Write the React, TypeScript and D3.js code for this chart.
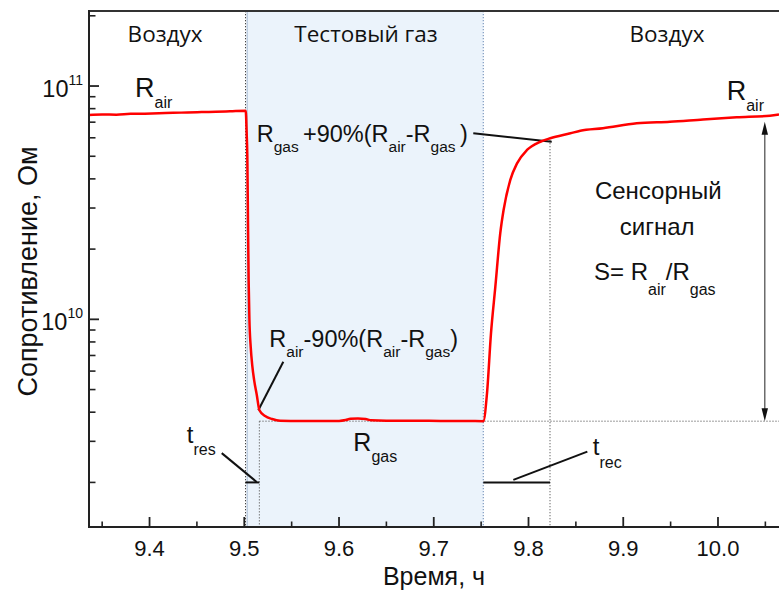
import React from 'react';
import * as d3 from 'd3';

const W = 779;
const H = 591;

// Time, h
const time = [
  9.336, 9.35, 9.365, 9.38, 9.395, 9.41, 9.425, 9.44, 9.455, 9.47, 9.485, 9.5015,
  9.5025, 9.5032, 9.504, 9.5046, 9.5054, 9.5068, 9.5085, 9.5104, 9.5132, 9.516, 9.522, 9.5294, 9.5378,
  9.56, 9.58, 9.6, 9.607, 9.612, 9.62, 9.628, 9.634, 9.65, 9.68, 9.71, 9.735, 9.7523,
  9.7562, 9.7604, 9.765, 9.7702, 9.7737, 9.7808, 9.7879, 9.7984, 9.8125, 9.823, 9.8442, 9.8547,
  9.8786, 9.9142, 9.9493, 9.9842, 10.0197, 10.0548, 10.0644,
];
// Resistance, Ohm
const resistance = [
  75.2e9, 75.5e9, 75.4e9, 76.0e9, 76.1e9, 76.4e9, 76.8e9, 77.0e9, 77.3e9, 77.6e9, 77.9e9, 78.3e9,
  63.0e9, 50.0e9, 24.1e9, 14.7e9, 10.0e9, 7.6e9, 6.3e9, 5.49e9, 4.74e9, 4.08e9, 3.85e9, 3.74e9, 3.68e9,
  3.67e9, 3.67e9, 3.67e9, 3.7e9, 3.75e9, 3.76e9, 3.74e9, 3.69e9, 3.68e9, 3.68e9, 3.67e9, 3.67e9, 3.66e9,
  4.82e9, 8.71e9, 13.8e9, 23.4e9, 29.4e9, 39.6e9, 46.6e9, 53.2e9, 57.7e9, 59.7e9, 62.7e9, 64.3e9,
  65.9e9, 69.2e9, 70.3e9, 71.9e9, 73.4e9, 74.6e9, 75.5e9,
];

const xTicks = [9.4, 9.5, 9.6, 9.7, 9.8, 9.9, 10.0];
const xTickLabels = ['9.4', '9.5', '9.6', '9.7', '9.8', '9.9', '10.0'];
const xMinorTicks = [9.35, 9.45, 9.55, 9.65, 9.75, 9.85, 9.95, 10.05];
const yTicks = [1e10, 1e11];
const yTickExp = ['10', '11'];
const yMinorTicks = [
  2e9, 3e9, 4e9, 5e9, 6e9, 7e9, 8e9, 9e9,
  2e10, 3e10, 4e10, 5e10, 6e10, 7e10, 8e10, 9e10, 2e11,
];

// key levels / times of the experiment
const gasStart = 9.503;
const gasEnd = 9.7523;
const gasOnMark = 9.5013;
const tResEnd = 9.5159;
const tRecEnd = 9.8227;
const rGas = 3.66e9;
const r90Rec = 5.87e10;
const tBarLevel = 2.0e9;
const arrowTime = 10.0494;
const arrowTop = 7.03e10;

// leader lines [t1, r1, t2, r2]
const leaders = [
  [9.7417, 6.27e10, 9.8245, 5.77e10],
  [9.5412, 6.58e9, 9.5148, 4.08e9],
  [9.4762, 2.67e9, 9.5131, 2.01e9],
  [9.784, 2.05e9, 9.8621, 2.71e9],
];

type Part = [string, boolean?];
interface Label {
  t: number;
  r: number;
  anchor: 'start' | 'middle' | 'end';
  family: string;
  fs: number;
  subFs?: number;
  subDy?: number;
  parts: Part[];
}

const SANS = "'Liberation Sans', Arial, sans-serif";
const HUM = "'Open Sans', 'Noto Sans', sans-serif";

const labels: Label[] = [
  { t: 9.4164, r: 1.544e11, anchor: 'middle', family: HUM, fs: 22.5, parts: [['Воздух']] },
  { t: 9.6285, r: 1.544e11, anchor: 'middle', family: HUM, fs: 22.5, parts: [['Тестовый газ']] },
  { t: 9.9462, r: 1.544e11, anchor: 'middle', family: HUM, fs: 22.5, parts: [['Воздух']] },
  { t: 9.3847, r: 8.99e10, anchor: 'start', family: SANS, fs: 27, subFs: 16, subDy: 11, parts: [['R'], ['air', true]] },
  { t: 10.0092, r: 8.71e10, anchor: 'start', family: SANS, fs: 27, subFs: 16, subDy: 11, parts: [['R'], ['air', true]] },
  {
    t: 9.5131, r: 5.77e10, anchor: 'start', family: SANS, fs: 23.5, subFs: 15.5, subDy: 10,
    parts: [['R'], ['gas ', true], ['+90%(R'], ['air', true], ['-R'], ['gas ', true], [')']],
  },
  {
    t: 9.5264, r: 7.63e9, anchor: 'start', family: SANS, fs: 23.5, subFs: 15.5, subDy: 10,
    parts: [['R'], ['air', true], ['-90%(R'], ['air', true], ['-R'], ['gas', true], [')']],
  },
  { t: 9.6151, r: 2.73e9, anchor: 'start', family: SANS, fs: 25, subFs: 16, subDy: 11, parts: [['R'], ['gas', true]] },
  { t: 9.4393, r: 2.94e9, anchor: 'start', family: SANS, fs: 24, subFs: 16, subDy: 12, parts: [['t'], ['res', true]] },
  { t: 9.8678, r: 2.62e9, anchor: 'start', family: SANS, fs: 24, subFs: 16, subDy: 13, parts: [['t'], ['rec', true]] },
  { t: 9.937, r: 3.27e10, anchor: 'middle', family: SANS, fs: 24, parts: [['Сенсорный']] },
  { t: 9.9358, r: 2.3e10, anchor: 'middle', family: SANS, fs: 24, parts: [['сигнал']] },
  {
    t: 9.8691, r: 1.474e10, anchor: 'start', family: SANS, fs: 24, subFs: 16, subDy: 15,
    parts: [['S= R'], ['air', true], ['/R'], ['gas', true]],
  },
];

const RichText: React.FC<{ x: number; y: number; l: Label }> = ({ x, y, l }) => {
  let cur = 0;
  return (
    <text x={x} y={y} textAnchor={l.anchor} fontFamily={l.family} fontSize={l.fs} fill="#111" style={{ whiteSpace: 'pre' }}>
      {l.parts.map(([s, sub], i) => {
        const target = sub ? l.subDy || 0 : 0;
        const dy = target - cur;
        cur = target;
        return (
          <tspan key={i} dy={dy} fontSize={sub ? l.subFs : l.fs}>
            {s}
          </tspan>
        );
      })}
    </text>
  );
};

export default function App() {
  const left = 89, right = 779, top = 11, bottom = 527;
  const x = d3.scaleLinear().domain([9.3361, 10.0644]).range([left, right]);
  const y = d3.scaleLog().domain([1.288e9, 2.097e11]).range([bottom, top]);

  const pts: [number, number][] = time.map((t, i) => [t, resistance[i]]);
  const line = d3
    .line<[number, number]>()
    .x((d) => x(d[0]))
    .y((d) => y(d[1]))
    .curve(d3.curveMonotoneX);

  const dot = '1.3 1.7';
  const ax = x(arrowTime);
  const ayTop = y(arrowTop);
  const ayBot = y(rGas);

  return (
    <svg width={W} height={H} style={{ position: 'absolute', left: 0, top: 0, background: '#fff' }}>
      <defs>
        <clipPath id="plot">
          <rect x={left} y={top} width={right - left} height={bottom - top} />
        </clipPath>
      </defs>

      {/* gas exposure region */}
      <rect x={x(gasStart)} y={top} width={x(gasEnd) - x(gasStart)} height={bottom - top} fill="#ebf3fb" />
      <line x1={x(gasStart)} x2={x(gasStart)} y1={top} y2={bottom} stroke="#9fb4cf" strokeWidth={1} />
      <line x1={x(gasEnd)} x2={x(gasEnd)} y1={top} y2={bottom} stroke="#7f9cc0" strokeWidth={1.2} strokeDasharray={dot} />
      <line x1={x(gasOnMark)} x2={x(gasOnMark)} y1={top} y2={bottom} stroke="#444" strokeWidth={1} strokeDasharray={dot} />

      {/* dotted helper lines */}
      <line x1={x(tResEnd)} x2={x(tResEnd)} y1={y(rGas)} y2={bottom} stroke="#666" strokeWidth={1} strokeDasharray={dot} />
      <line x1={x(tResEnd)} x2={right} y1={y(rGas)} y2={y(rGas)} stroke="#666" strokeWidth={1} strokeDasharray={dot} />
      <line x1={x(tRecEnd)} x2={x(tRecEnd)} y1={y(r90Rec)} y2={bottom} stroke="#666" strokeWidth={1} strokeDasharray={dot} />

      {/* response / recovery time bars */}
      <line x1={x(gasOnMark)} x2={x(tResEnd)} y1={y(tBarLevel)} y2={y(tBarLevel)} stroke="#111" strokeWidth={2} />
      <line x1={x(gasEnd)} x2={x(tRecEnd)} y1={y(tBarLevel)} y2={y(tBarLevel)} stroke="#111" strokeWidth={2} />

      {/* leaders */}
      {leaders.map((l, i) => (
        <line key={i} x1={x(l[0])} y1={y(l[1])} x2={x(l[2])} y2={y(l[3])} stroke="#111" strokeWidth={2} />
      ))}

      {/* data */}
      <path d={line(pts) || ''} fill="none" stroke="#ff0000" strokeWidth={2.5} clipPath="url(#plot)" strokeLinejoin="round" />

      {/* sensor signal arrow */}
      <line x1={ax} x2={ax} y1={ayTop + 10} y2={ayBot - 10} stroke="#555" strokeWidth={1.3} />
      <polygon points={`${ax},${ayTop} ${ax - 3.2},${ayTop + 13} ${ax + 3.2},${ayTop + 13}`} fill="#111" />
      <polygon points={`${ax},${ayBot} ${ax - 3.2},${ayBot - 13} ${ax + 3.2},${ayBot - 13}`} fill="#111" />

      {/* frame */}
      <line x1={left} x2={right} y1={top} y2={top} stroke="#333" strokeWidth={1.8} />
      <line x1={left} x2={left} y1={top - 1} y2={bottom + 1} stroke="#222" strokeWidth={2} />
      <line x1={left - 1} x2={right} y1={bottom} y2={bottom} stroke="#222" strokeWidth={2} />

      {/* x ticks */}
      {xTicks.map((t, i) => (
        <g key={'xt' + i}>
          <line x1={x(t)} x2={x(t)} y1={bottom} y2={bottom - 10} stroke="#222" strokeWidth={1.8} />
          <text x={x(t)} y={556} textAnchor="middle" fontFamily={SANS} fontSize={22} fill="#111">
            {xTickLabels[i]}
          </text>
        </g>
      ))}
      {xMinorTicks.map((t, i) => (
        <line key={'xm' + i} x1={x(t)} x2={x(t)} y1={bottom} y2={bottom - 5.5} stroke="#222" strokeWidth={1.6} />
      ))}

      {/* y ticks */}
      {yTicks.map((v, i) => (
        <g key={'yt' + i}>
          <line x1={left} x2={left + 10} y1={y(v)} y2={y(v)} stroke="#222" strokeWidth={1.8} />
          <text x={83} y={y(v) + 10.5} textAnchor="end" fontFamily={SANS} fontSize={23.5} fill="#111">
            <tspan>10</tspan>
            <tspan dy={-11.5} fontSize={14}>
              {yTickExp[i]}
            </tspan>
          </text>
        </g>
      ))}
      {yMinorTicks.map((v, i) => (
        <line key={'ym' + i} x1={left} x2={left + 6.5} y1={y(v)} y2={y(v)} stroke="#222" strokeWidth={1.6} />
      ))}

      {/* annotations */}
      {labels.map((l, i) => (
        <RichText key={i} x={x(l.t)} y={y(l.r)} l={l} />
      ))}

      {/* axis titles */}
      <text x={434} y={585} textAnchor="middle" fontFamily={SANS} fontSize={25} fill="#111">
        Время, ч
      </text>
      <text
        transform="translate(36.5,271.5) rotate(-90)"
        textAnchor="middle"
        fontFamily={SANS}
        fontSize={27}
        fill="#111"
      >
        Сопротивление, Ом
      </text>
    </svg>
  );
}
